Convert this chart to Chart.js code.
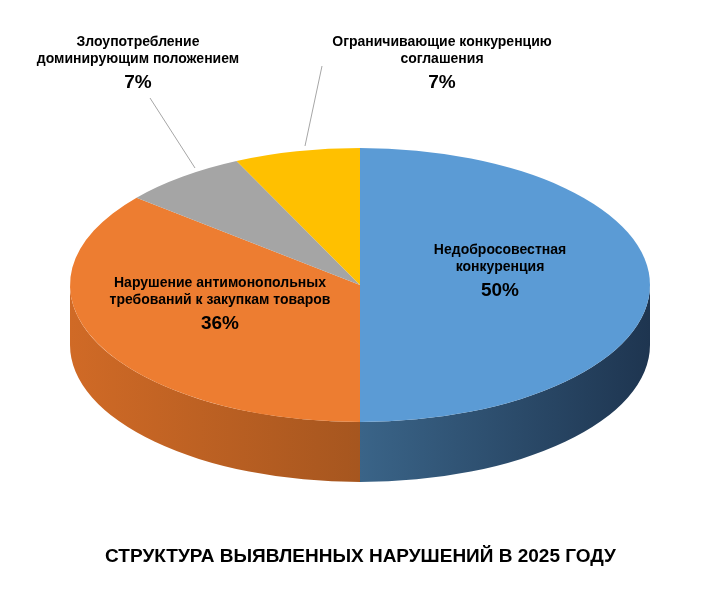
<!DOCTYPE html>
<html>
<head>
<meta charset="utf-8">
<script src="https://cdn.jsdelivr.net/npm/chart.js@4"></script>
<style>
  body { margin: 0; background: #fff; }
  #wrap { position: relative; width: 721px; height: 602px; }
  #title { position: absolute; left: 0; width: 721px; top: 545px; text-align: center;
           font: bold 19px "Liberation Sans", Arial, sans-serif; color: #000; }
</style>
</head>
<body>
<div id="wrap">
  <canvas id="pie" width="721" height="602"></canvas>
  <div id="title">СТРУКТУРА ВЫЯВЛЕННЫХ НАРУШЕНИЙ В 2025 ГОДУ</div>
</div>
<script>
const categories = [
    ['Недобросовестная', 'конкуренция'],
    ['Нарушение антимонопольных', 'требований к закупкам товаров'],
    ['Злоупотребление', 'доминирующим положением'],
    ['Ограничивающие конкуренцию', 'соглашения']
];
const shares = [50, 36, 7, 7];
const shareLabels = ['50%', '36%', '7%', '7%'];

const topColors = ['#5b9bd5', '#ed7d31', '#a5a5a5', '#ffc000'];
const sideColors = [['#2c4d6c', '#1e3550'], ['#d06a26', '#7c4218'], ['#7a7a7a', '#5a5a5a'], ['#c09000', '#8a6a00']];
const labelPos = [[500, 250], [220, 283], [138, 42], [442, 42]];

const RX = 290, RY = 137, DEPTH = 60;

const pie3d = {
    id: 'pie3d',
    beforeDatasetsDraw(chart) {
        const ctx = chart.ctx;
        const arcs = chart.getDatasetMeta(0).data;
        const cx = arcs[0].x, cy = arcs[0].y;
        // side walls for the front half
        arcs.forEach((arc, i) => {
            const a0 = Math.max(arc.startAngle, 0);
            const a1 = Math.min(arc.endAngle, Math.PI);
            if (a1 <= a0) return;
            const g = ctx.createLinearGradient(cx - RX, 0, cx + RX, 0);
            g.addColorStop(0, sideColors[i][0]);
            g.addColorStop(1, sideColors[i][1]);
            if (i === 0) {
                g.addColorStop(0.5, '#3a6488');
            }
            ctx.save();
            ctx.beginPath();
            ctx.ellipse(cx, cy, RX, RY, 0, a0, a1);
            ctx.ellipse(cx, cy + DEPTH, RX, RY, 0, a1, a0, true);
            ctx.closePath();
            ctx.fillStyle = g;
            ctx.fill();
            ctx.restore();
        });
        ctx.save();
        ctx.translate(cx, cy);
        ctx.scale(1, RY / RX);
        ctx.translate(-cx, -cy);
    },
    afterDatasetsDraw(chart) {
        const ctx = chart.ctx;
        ctx.restore();
        // leader lines
        ctx.save();
        ctx.strokeStyle = '#a6a6a6';
        ctx.lineWidth = 1;
        ctx.beginPath();
        ctx.moveTo(150, 98); ctx.lineTo(195, 168);
        ctx.moveTo(322, 66); ctx.lineTo(305, 146);
        ctx.stroke();
        // labels
        ctx.fillStyle = '#000';
        ctx.textAlign = 'center';
        ctx.textBaseline = 'middle';
        categories.forEach((lines, i) => {
            const [x, y] = labelPos[i];
            ctx.font = 'bold 14px "Liberation Sans", Arial, sans-serif';
            lines.forEach((t, k) => ctx.fillText(t, x, y + k * 17));
            ctx.font = 'bold 19px "Liberation Sans", Arial, sans-serif';
            ctx.fillText(shareLabels[i], x, y + 41);
        });
        ctx.restore();
    }
};

new Chart(document.getElementById('pie'), {
    type: 'pie',
    data: {
        labels: categories.map(c => c.join(' ')),
        datasets: [{
            data: shares,
            backgroundColor: topColors,
            borderWidth: 0,
            radius: RX
        }]
    },
    options: {
        responsive: false,
        animation: false,
        layout: { padding: { top: 0, bottom: 32, left: 0, right: 1 } },
        plugins: { legend: { display: false }, tooltip: { enabled: false } }
    },
    plugins: [pie3d]
});
</script>
</body>
</html>
